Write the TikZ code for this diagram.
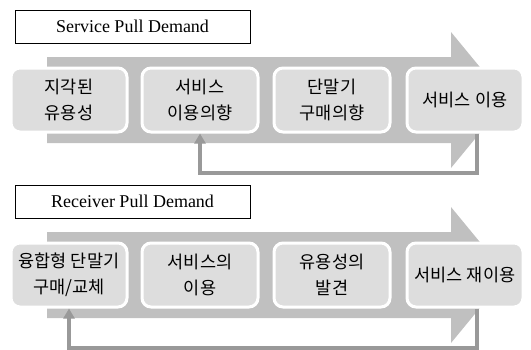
\documentclass[tikz,border=0pt]{standalone}
\usepackage{fontspec}
\setmainfont{Liberation Serif}
\newfontfamily\kr{Noto Sans CJK KR}
\usetikzlibrary{arrows.meta}
\definecolor{bandgray}{RGB}{192,192,192}
\definecolor{boxgray}{RGB}{221,221,221}
\definecolor{loopgray}{RGB}{153,153,153}
\tikzset{
	stage/.style={draw=white, line width=3pt, fill=boxgray, rounded corners=9pt,
		minimum width=116pt, minimum height=64pt, align=center, inner sep=0pt,
		font=\kr\fontsize{17.5}{26}\selectfont},
	titlebox/.style={draw, line width=0.6pt, minimum width=235pt, minimum height=33pt,
		inner sep=0pt, font=\fontsize{18}{20}\selectfont},
	feedback/.style={draw=loopgray, line width=4pt,
		-{Triangle[length=10pt,width=11pt]}}
}
\begin{document}
\begin{tikzpicture}[x=1pt,y=-1pt]
	\useasboundingbox (0,0) rectangle (531,349);
		\node[titlebox] (t1) at (132.5,26.5) {Service Pull Demand};
		\fill[bandgray] (47,57) -- (451,57) -- (451,32) -- (507,100) -- (451,168) -- (451,143) -- (47,143) -- cycle;
		\node[stage] (a1) at (69,100) {지각된\\유용성};
		\node[stage] (a2) at (200,100) {서비스\\이용의향};
		\node[stage] (a3) at (332,100) {단말기\\구매의향};
		\node[stage] (a4) at (465,100) {서비스 이용};
		\draw[feedback] ([xshift=12pt]a4.south) -- ++(0,39) -| (a2.south);

		\node[titlebox] (t2) at (132.5,201.5) {Receiver Pull Demand};
		\fill[bandgray] (47,232) -- (451,232) -- (451,207) -- (507,275) -- (451,343) -- (451,318) -- (47,318) -- cycle;
		\node[stage] (b1) at (69,275) {융합형 단말기\\구매/교체};
		\node[stage] (b2) at (200,275) {서비스의\\이용};
		\node[stage] (b3) at (332,275) {유용성의\\발견};
		\node[stage] (b4) at (465,275) {서비스 재이용};
		\draw[feedback] ([xshift=12pt]b4.south) -- ++(0,39) -| (b1.south);
	\end{tikzpicture}
\end{document}
